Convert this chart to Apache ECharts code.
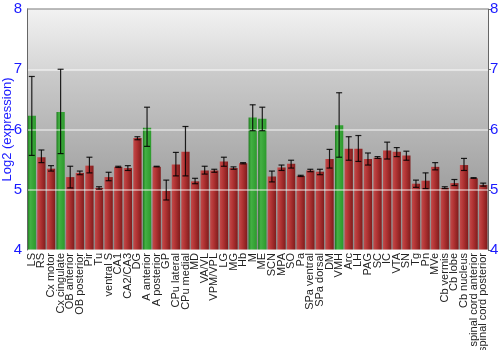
<!DOCTYPE html>
<html><head><meta charset="utf-8">
<script src="https://cdn.jsdelivr.net/npm/echarts@6/dist/echarts.min.js"></script>
<style>html,body{margin:0;padding:0;background:#fff}#c{width:500px;height:350px}</style>
</head><body><div id="c"></div>
<script>
const categories = ["LS","RS","Cx motor","Cx cingulate","OB anterior","OB posterior","Pir","Tu","ventral S","CA1","CA2/CA3","DG","A anterior","A posterior","GP","CPu lateral","CPu medial","MD","VA/VL","VPM/VPL","LG","MG","Hb","M","ME","SCN","MPA","SO","Pa","SPa ventral","SPa dorsal","DM","VMH","Arc","LH","PAG","SC","IC","VTA","SN","Tg","Pn","MVe","Cb vermis","Cb lobe","Cb nucleus","spinal cord anterior","spinal cord posterior"];
const values = [6.23,5.54,5.35,6.29,5.21,5.28,5.40,5.03,5.21,5.38,5.36,5.86,6.03,5.38,4.98,5.42,5.63,5.14,5.32,5.32,5.47,5.36,5.44,6.20,6.18,5.22,5.37,5.43,5.23,5.32,5.30,5.51,6.07,5.68,5.68,5.51,5.53,5.65,5.63,5.57,5.10,5.15,5.38,5.03,5.11,5.41,5.19,5.08];
const errHigh = [6.88,5.66,5.40,7.00,5.39,5.31,5.54,5.05,5.29,5.39,5.40,5.88,6.37,5.39,5.16,5.62,6.05,5.19,5.39,5.34,5.54,5.38,5.45,6.41,6.37,5.31,5.41,5.49,5.24,5.34,5.34,5.67,6.61,5.88,5.90,5.61,5.55,5.79,5.70,5.64,5.16,5.28,5.45,5.05,5.17,5.52,5.20,5.11];
const errLow = [5.57,5.45,5.31,5.60,5.03,5.25,5.28,5.01,5.15,5.37,5.32,5.83,5.72,5.38,4.83,5.23,5.23,5.10,5.26,5.29,5.39,5.34,5.43,5.98,5.98,5.13,5.32,5.36,5.22,5.30,5.25,5.36,5.54,5.49,5.47,5.41,5.52,5.51,5.55,5.49,5.04,5.02,5.33,5.02,5.07,5.32,5.19,5.06];
const greenCats = ["LS","Cx cingulate","A anterior","M","ME","VMH"];
const yTicks = [4,5,6,7,8];

const redGrad = new echarts.graphic.LinearGradient(0,0,1,0,[{offset:0,color:'#c24a4a'},{offset:0.4,color:'#b23434'},{offset:1,color:'#801c1c'}]);
const greenGrad = new echarts.graphic.LinearGradient(0,0,1,0,[{offset:0,color:'#1e7a1e'},{offset:0.3,color:'#44b044'},{offset:1,color:'#2c9a2c'}]);

const chart = echarts.init(document.getElementById('c'));
const barData = values.map((v,i)=>({value:v,itemStyle:{color: greenCats.includes(categories[i]) ? greenGrad : redGrad}}));
const errData = values.map((v,i)=>[i, errLow[i], errHigh[i]]);

const gx = 27, gy = 9, gw = 500-27-12, gh = 350-9-100;
chart.setOption({
  animation:false,
  grid:{left:27,right:12,top:9,bottom:100,show:false,containLabel:false,outerBoundsMode:'none'},
  graphic:[
    {type:'rect',z:-10,silent:true,shape:{x:gx,y:gy,width:gw,height:gh},
     style:{fill:new echarts.graphic.LinearGradient(0,0,0,1,[{offset:0,color:'#f2f2f2'},{offset:0.25,color:'#d6d6d6'},{offset:0.26,color:'#cbcbcb'},{offset:1,color:'#8a8a8a'}])}},
    {type:'line',z:10,silent:true,shape:{x1:gx,y1:gy,x2:gx+gw,y2:gy},style:{stroke:'#777',lineWidth:1}}
  ],
  xAxis:{type:'category',data:categories,
    axisLine:{show:false},axisTick:{show:false},
    axisLabel:{rotate:90,interval:0,fontSize:11,fontFamily:'Liberation Sans',color:'#222',margin:3}
  },
  yAxis:[
    {type:'value',position:'left',z:5,min:yTicks[0],max:yTicks[yTicks.length-1],interval:1,
      name:'Log2 (expression)',nameLocation:'middle',nameGap:13,nameMoveOverlap:false,
      nameTextStyle:{color:'#1a1aff',fontSize:13,fontFamily:'Liberation Sans'},
      axisLine:{show:true,lineStyle:{color:'#666',width:1}},
      axisTick:{show:false},
      axisLabel:{color:'#1a1aff',fontSize:15,fontFamily:'Liberation Sans',margin:5},
      splitLine:{show:true,lineStyle:{color:'rgba(255,255,255,0.6)',width:1.5}}},
    {type:'value',position:'right',min:yTicks[0],max:yTicks[yTicks.length-1],interval:1,
      axisLine:{show:true,lineStyle:{color:'#666',width:1}},
      axisTick:{show:true,length:3,lineStyle:{color:'#666'}},
      axisLabel:{color:'#1a1aff',fontSize:15,fontFamily:'Liberation Sans',margin:2},
      splitLine:{show:false}}
  ],
  series:[
    {type:'bar',data:barData,barCategoryGap:'14%',z:2,itemStyle:{borderWidth:0}},
    {type:'custom',z:6,data:errData,
     renderItem:function(params,api){
       const x = api.value(0);
       const lo = api.coord([x, api.value(1)]);
       const hi = api.coord([x, api.value(2)]);
       const cap = 3;
       const st = {stroke:'rgba(0,0,0,0.85)',lineWidth:1.2};
       return {type:'group',children:[
         {type:'line',shape:{x1:hi[0],y1:hi[1],x2:lo[0],y2:lo[1]},style:st},
         {type:'line',shape:{x1:hi[0]-cap,y1:hi[1],x2:hi[0]+cap,y2:hi[1]},style:st},
         {type:'line',shape:{x1:lo[0]-cap,y1:lo[1],x2:lo[0]+cap,y2:lo[1]},style:st}
       ]};
     }}
  ]
});
</script></body></html>
